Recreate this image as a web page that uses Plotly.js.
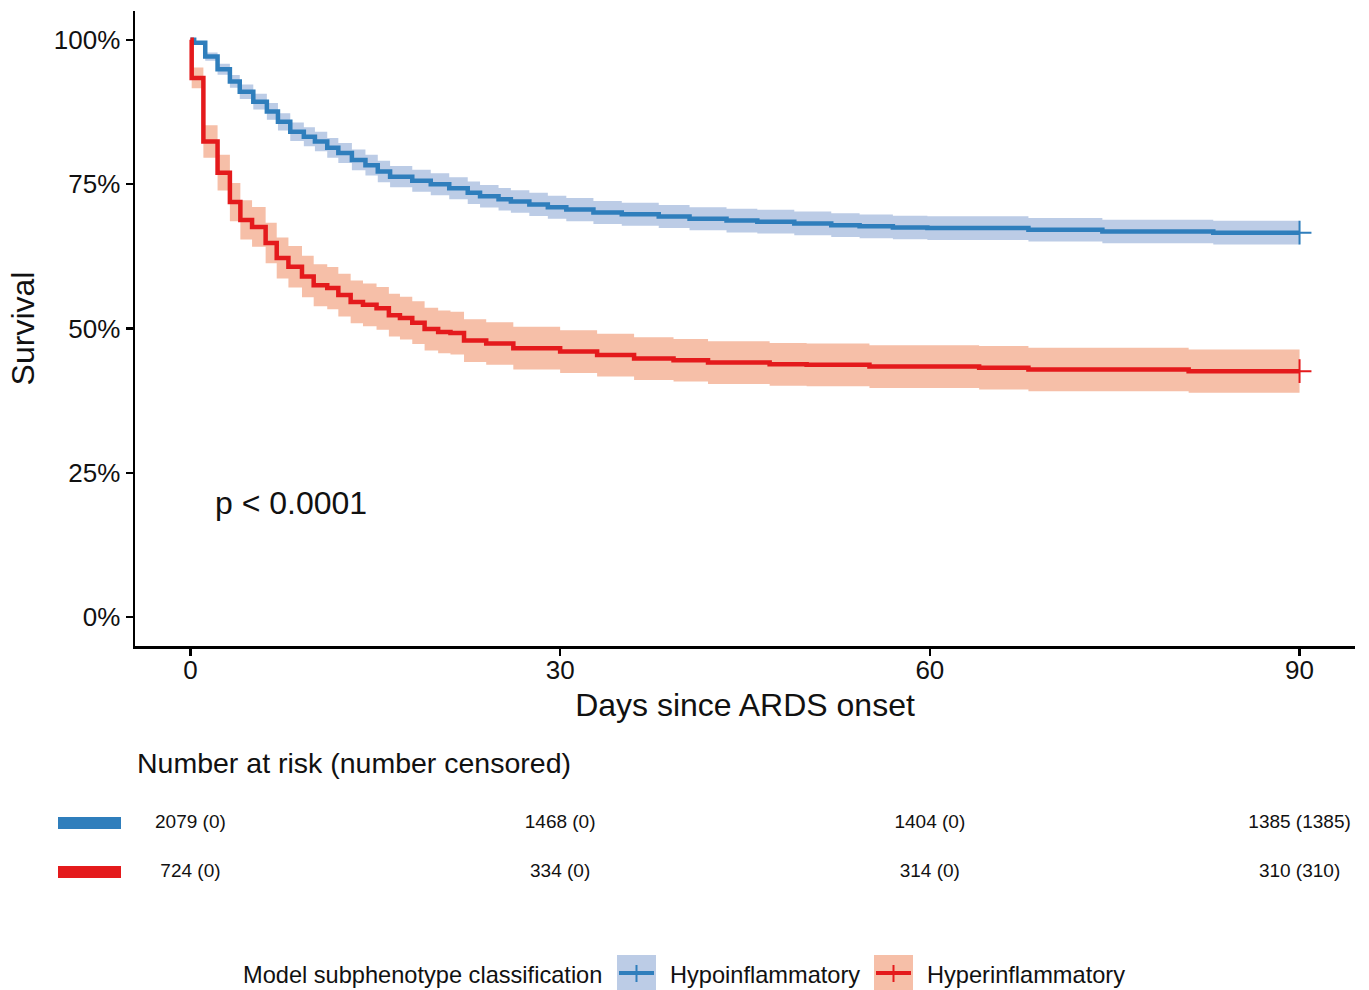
<!DOCTYPE html>
<html>
<head>
<meta charset="utf-8">
<script src="https://cdn.plot.ly/plotly-3.0.1.min.js"></script>
<style>html,body{margin:0;padding:0;background:#fff;}#chart{width:1369px;height:990px;}</style>
</head>
<body>
<div id="chart"></div>
<script>
// ---- Data ----
var hypoDays = [0,0.3,1.2,2.2,3.2,4,5.1,6.2,7.1,8.1,9.2,10.1,11.1,12,13.1,14.2,15.2,16.2,18,19.5,21,22.5,23.5,25,26,27.5,29,30.5,32.7,35,38,40.5,43.5,46,49,52,54.3,57,59.8,68,74,83,90];
var hypoSurv = [100,99.5,97.1,94.9,92.8,91.0,89.3,87.6,85.8,84.1,83.2,82.4,81.3,80.4,79.2,78.3,77.2,76.3,75.6,75.0,74.3,73.5,72.9,72.4,72.0,71.5,71.0,70.6,70.1,69.8,69.4,69.0,68.7,68.5,68.2,67.9,67.7,67.5,67.4,67.1,66.8,66.6,66.6];
var hypoLower = [100,99.2,96.4,93.95,91.7,89.75,87.95,86.15,84.3,82.5,81.55,80.7,79.6,78.65,77.4,76.5,75.35,74.45,73.7,73.1,72.4,71.55,70.95,70.45,70.05,69.5,69.0,68.6,68.1,67.8,67.4,67.0,66.65,66.45,66.15,65.85,65.65,65.45,65.35,65.05,64.75,64.55,64.55];
var hypoUpper = [100,99.8,97.8,95.85,93.9,92.25,90.65,89.05,87.3,85.7,84.85,84.1,83.0,82.15,81.0,80.1,79.05,78.15,77.5,76.9,76.2,75.45,74.85,74.35,73.95,73.5,73.0,72.6,72.1,71.8,71.4,71.0,70.75,70.55,70.25,69.95,69.75,69.55,69.45,69.15,68.85,68.65,68.65];

var hyperDays = [0,0.1,1.05,2.2,3.2,4.05,5,6.1,7,7.95,9.05,10,11.1,12,13,14,15.1,16.1,17,18,19,20.1,21.1,22.2,24,26.2,30,33,36,39.2,42,47,50,55.1,64,68,81,90];
var hyperSurv = [100,93.4,82.4,77.0,71.9,68.8,67.6,64.8,62.2,60.7,59.0,57.5,57.0,55.8,54.6,54.1,53.5,52.3,51.8,51.0,49.9,49.4,49.2,47.9,47.4,46.6,46.0,45.4,44.8,44.5,44.1,43.8,43.7,43.4,43.2,42.9,42.6,42.6];
var hyperLower = [100,91.6,79.6,73.9,68.6,65.4,64.15,61.3,58.65,57.1,55.4,53.85,53.35,52.1,50.9,50.4,49.8,48.6,48.1,47.3,46.2,45.7,45.5,44.2,43.7,42.9,42.3,41.7,41.1,40.8,40.4,40.1,40.0,39.7,39.45,39.15,38.85,38.85];
var hyperUpper = [100,95.2,85.2,80.1,75.2,72.2,71.05,68.3,65.75,64.3,62.6,61.15,60.65,59.5,58.3,57.8,57.2,56.0,55.5,54.7,53.6,53.1,52.9,51.6,51.1,50.3,49.7,49.1,48.5,48.2,47.8,47.5,47.4,47.1,46.95,46.65,46.35,46.35];

var censorDay = [90];
var hypoCensorSurv = [66.6];
var hyperCensorSurv = [42.6];

var riskDays = [0, 30, 60, 90];
var hypoRisk = ['2079 (0)', '1468 (0)', '1404 (0)', '1385 (1385)'];
var hyperRisk = ['724 (0)', '334 (0)', '314 (0)', '310 (310)'];

var yTicks = [0, 25, 50, 75, 100];
var yTickLabels = ['0%', '25%', '50%', '75%', '100%'];
var xTicks = [0, 30, 60, 90];
var xTickLabels = ['0', '30', '60', '90'];

var groupNames = ['Hypoinflammatory', 'Hyperinflammatory'];

// ---- Styling ----
var FONT = 'Liberation Sans, Arial, Helvetica, sans-serif';
var blueLine = '#2F7EBC', blueBand = '#BCCCE6';
var redLine = '#E41A1C', redBand = '#F6BFA8';

function band(x, y, color, fill) {
  return {x: x, y: y, type: 'scatter', mode: 'lines', line: {width: 0, shape: 'hv', color: color},
          fill: fill, fillcolor: color, hoverinfo: 'skip', showlegend: false};
}

var traces = [
  band(hypoDays, hypoLower, blueBand, 'none'),
  band(hypoDays, hypoUpper, blueBand, 'tonexty'),
  band(hyperDays, hyperLower, redBand, 'none'),
  band(hyperDays, hyperUpper, redBand, 'tonexty'),
  {x: hypoDays, y: hypoSurv, type: 'scatter', mode: 'lines', name: groupNames[0],
   line: {color: blueLine, width: 4.5, shape: 'hv'}, showlegend: false},
  {x: hyperDays, y: hyperSurv, type: 'scatter', mode: 'lines', name: groupNames[1],
   line: {color: redLine, width: 4.5, shape: 'hv'}, showlegend: false},
  {x: censorDay, y: hypoCensorSurv, type: 'scatter', mode: 'markers', showlegend: false, cliponaxis: false,
   marker: {symbol: 'cross-thin', size: 17, line: {color: blueLine, width: 2}}},
  {x: censorDay, y: hyperCensorSurv, type: 'scatter', mode: 'markers', showlegend: false, cliponaxis: false,
   marker: {symbol: 'cross-thin', size: 17, line: {color: redLine, width: 2}}},
  {x: riskDays, y: riskDays.map(function(){return groupNames[0];}), text: hypoRisk,
   type: 'scatter', mode: 'text', xaxis: 'x2', yaxis: 'y2', cliponaxis: false, showlegend: false,
   textfont: {family: FONT, size: 19, color: '#111'}, textposition: 'middle center'},
  {x: riskDays, y: riskDays.map(function(){return groupNames[1];}), text: hyperRisk,
   type: 'scatter', mode: 'text', xaxis: 'x2', yaxis: 'y2', cliponaxis: false, showlegend: false,
   textfont: {family: FONT, size: 19, color: '#111'}, textposition: 'middle center'}
];

// pixel helpers for the page layout (plot area 135..1355 px horizontally)
var W = 1369, H = 990, ML = 135, MR = 14, MT = 11, MB = 0;
var PW = W - ML - MR, PH = H - MT - MB;
function px(x) { return (x - ML) / PW; }
function py(y) { return (H - MB - y) / PH; }

var layout = {
  width: W, height: H,
  margin: {l: ML, r: MR, t: MT, b: MB, pad: 0},
  paper_bgcolor: '#fff', plot_bgcolor: '#fff',
  font: {family: FONT, color: '#111'},
  showlegend: false,
  xaxis: {
    domain: [0, 1], anchor: 'y', range: [-4.5, 94.5], tickmode: 'array', tickvals: xTicks, ticktext: xTickLabels,
    showline: true, linecolor: '#000', linewidth: 2.5, mirror: false,
    ticks: 'outside', ticklen: 7, tickwidth: 2.5, tickcolor: '#000', ticklabelstandoff: -8,
    showgrid: false, zeroline: false, tickfont: {size: 26, color: '#111'},
    title: {text: 'Days since ARDS onset', font: {size: 32, color: '#111'}, standoff: 10}
  },
  yaxis: {
    domain: [py(646), 1], anchor: 'x', range: [-5, 105], tickmode: 'array', tickvals: yTicks, ticktext: yTickLabels,
    showline: true, linecolor: '#000', linewidth: 2.5,
    ticks: 'outside', ticklen: 7, tickwidth: 2.5, tickcolor: '#000',
    showgrid: false, zeroline: false, tickfont: {size: 26, color: '#111'},
    title: {text: 'Survival', font: {size: 32, color: '#111'}, standoff: 10}
  },
  xaxis2: {domain: [0, 1], anchor: 'y2', range: [-4.5, 94.5], visible: false, fixedrange: true},
  yaxis2: {domain: [py(896.5), py(798.5)], anchor: 'x2', type: 'category',
           categoryarray: [groupNames[1], groupNames[0]], range: [-0.5, 1.5], visible: false, fixedrange: true},
  annotations: [
    {text: 'p < 0.0001', xref: 'x', yref: 'y', x: 1.85, y: 19.8, xanchor: 'left', yanchor: 'middle',
     showarrow: false, font: {size: 32, color: '#111'}},
    {text: 'Number at risk (number censored)', xref: 'paper', yref: 'paper', x: 0, y: py(763),
     xanchor: 'left', yanchor: 'middle', showarrow: false, font: {size: 28.5, color: '#111'}},
    {text: 'Model subphenotype classification', xref: 'paper', yref: 'paper', x: px(604), y: py(975),
     xanchor: 'right', yanchor: 'middle', showarrow: false, font: {size: 23.6, color: '#111'}},
    {text: groupNames[0], xref: 'paper', yref: 'paper', x: px(668), y: py(975),
     xanchor: 'left', yanchor: 'middle', showarrow: false, font: {size: 23.6, color: '#111'}},
    {text: groupNames[1], xref: 'paper', yref: 'paper', x: px(925), y: py(975),
     xanchor: 'left', yanchor: 'middle', showarrow: false, font: {size: 23.6, color: '#111'}}
  ],
  shapes: [
    // risk-table colour keys
    {type: 'rect', xref: 'paper', yref: 'y2', x0: px(58), x1: px(121), y0: 0.88, y1: 1.12,
     fillcolor: blueLine, line: {width: 0}},
    {type: 'rect', xref: 'paper', yref: 'y2', x0: px(58), x1: px(121), y0: -0.12, y1: 0.12,
     fillcolor: redLine, line: {width: 0}},
    // legend keys
    {type: 'rect', xref: 'paper', yref: 'paper', x0: px(617), x1: px(656), y0: py(995), y1: py(955),
     fillcolor: blueBand, line: {width: 0}},
    {type: 'line', xref: 'paper', yref: 'paper', x0: px(619), x1: px(654), y0: py(973), y1: py(973),
     line: {color: blueLine, width: 4}},
    {type: 'line', xref: 'paper', yref: 'paper', x0: px(636.5), x1: px(636.5), y0: py(965), y1: py(982),
     line: {color: blueLine, width: 2}},
    {type: 'rect', xref: 'paper', yref: 'paper', x0: px(874), x1: px(913), y0: py(995), y1: py(955),
     fillcolor: redBand, line: {width: 0}},
    {type: 'line', xref: 'paper', yref: 'paper', x0: px(876), x1: px(911), y0: py(973), y1: py(973),
     line: {color: redLine, width: 4}},
    {type: 'line', xref: 'paper', yref: 'paper', x0: px(893.5), x1: px(893.5), y0: py(965), y1: py(982),
     line: {color: redLine, width: 2}}
  ]
};

Plotly.newPlot('chart', traces, layout, {displayModeBar: false, staticPlot: true});
</script>
</body>
</html>
